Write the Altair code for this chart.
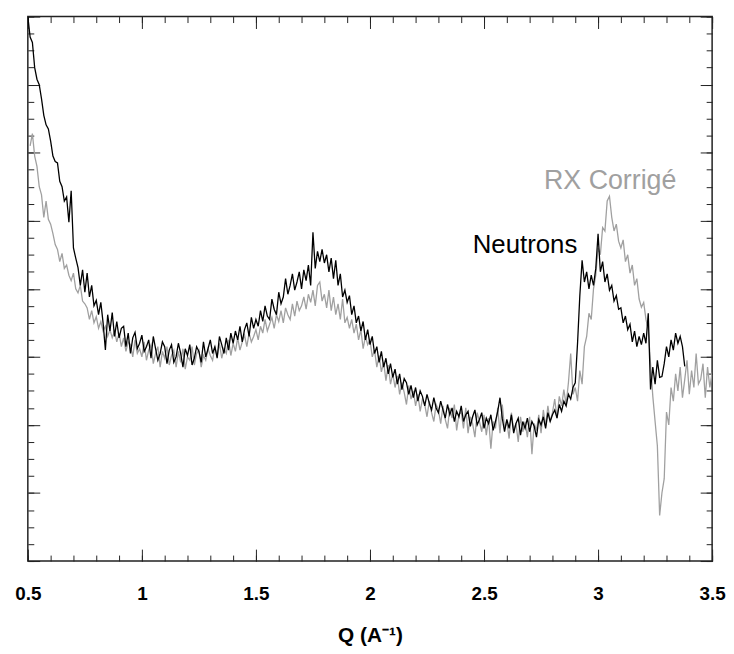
import altair as alt
import pandas as pd

# ---- data (y in arbitrary units, 0..8) ----
neutrons_y = [
    8.00, 7.70, 7.62, 7.25, 7.08, 7.00, 6.79, 6.55, 6.41, 6.35,   # 0.50-0.59
    6.17, 5.95, 5.87, 5.85, 5.58, 5.50, 5.29, 5.35, 4.98, 5.44,   # 0.60
    4.60, 4.45, 4.31, 4.05, 4.28, 3.95, 4.23, 3.88, 4.05, 3.75,   # 0.70
    3.83, 3.62, 3.80, 3.50, 3.10, 3.62, 3.38, 3.65, 3.30, 3.52,   # 0.80
    3.28, 3.42, 3.45, 3.15, 3.35, 3.05, 3.28, 3.36, 3.12, 3.20,   # 0.90
    3.32, 3.08, 3.15, 3.25, 2.98, 3.30, 3.12, 2.95, 3.05, 3.22,   # 1.00
    3.15, 2.90, 3.10, 3.18, 2.92, 3.00, 3.20, 3.05, 2.85, 3.12,   # 1.10
    3.02, 3.18, 2.88, 2.98, 3.15, 3.08, 2.92, 3.22, 3.00, 3.12,   # 1.20
    3.25, 3.05, 3.15, 2.98, 3.30, 3.18, 3.05, 3.28, 3.10, 3.35,   # 1.30
    3.20, 3.38, 3.25, 3.45, 3.22, 3.40, 3.50, 3.30, 3.58, 3.42,   # 1.40
    3.55, 3.45, 3.68, 3.52, 3.75, 3.60, 3.55, 3.85, 3.70, 3.62,   # 1.50
    3.95, 3.78, 3.88, 4.15, 3.92, 4.05, 4.22, 3.98, 4.10, 4.25,   # 1.60
    4.00, 4.28, 4.12, 4.35, 4.05, 4.83, 4.30, 4.55, 4.40, 4.58,   # 1.70
    4.38, 4.50, 4.25, 4.45, 4.15, 4.42, 4.05, 4.22, 3.88, 3.98,   # 1.80
    3.80, 3.90, 3.62, 3.75, 3.50, 3.60, 3.38, 3.52, 3.25, 3.40,   # 1.90
    3.18, 3.30, 3.05, 3.15, 2.92, 3.08, 2.85, 2.98, 2.75, 2.90,   # 2.00
    2.70, 2.82, 2.60, 2.75, 2.52, 2.68, 2.62, 2.45, 2.58, 2.40,   # 2.10
    2.55, 2.35, 2.50, 2.42, 2.28, 2.45, 2.32, 2.22, 2.40, 2.25,   # 2.20
    2.18, 2.35, 2.22, 2.10, 2.30, 2.15, 2.25, 2.05, 2.20, 2.12,   # 2.30
    2.28, 2.05, 2.15, 2.20, 1.98, 2.12, 2.22, 2.00, 2.08, 2.18,   # 2.40
    1.95, 2.10, 2.02, 2.15, 1.92, 2.05, 2.20, 2.40, 2.10, 1.90,   # 2.50
    2.08, 1.95, 2.15, 1.88, 2.02, 2.10, 1.85, 2.05, 1.95, 2.10,   # 2.60
    1.90, 2.05, 1.98, 1.82, 2.08, 2.00, 2.12, 1.95, 2.18, 2.05,   # 2.70
    2.15, 2.22, 2.10, 2.30, 2.20, 2.35, 2.28, 2.45, 2.38, 2.55,   # 2.80
    2.62, 3.20, 3.90, 4.42, 4.10, 4.25, 4.00, 4.20, 4.05, 4.30,   # 2.90
    4.81, 4.25, 4.40, 4.10, 4.22, 3.98, 4.05, 3.82, 3.90, 3.70,   # 3.00
    3.72, 3.50, 3.60, 3.40, 3.48, 3.22, 3.38, 3.15, 3.30, 3.18,   # 3.10
    3.35, 3.20, 3.64, 2.52, 2.85, 2.60, 2.95, 2.70, 2.71, 2.90,   # 3.20
    3.15, 3.00, 3.25, 3.10, 3.35, 3.20, 3.30, 3.15, 2.86,         # 3.30-3.38
]
neutrons_q0 = 0.50

rx_y = [
    6.10, 6.28, 5.95, 5.80, 5.50, 5.38, 5.05, 5.29, 5.02,         # 0.51-0.59
    4.95, 4.81, 4.65, 4.58, 4.40, 4.52, 4.30, 4.35, 4.20, 4.12,   # 0.60
    4.23, 4.00, 3.94, 4.05, 3.82, 3.78, 3.72, 3.55, 3.68, 3.50,   # 0.70
    3.59, 3.42, 3.52, 3.38, 3.45, 3.30, 3.40, 3.28, 3.38, 3.22,   # 0.80
    3.35, 3.15, 3.28, 3.08, 3.22, 3.18, 3.00, 3.25, 3.05, 3.12,   # 0.90
    3.00, 3.22, 2.95, 3.10, 3.18, 2.90, 3.05, 3.15, 2.85, 3.08,   # 1.00
    2.98, 3.15, 2.88, 3.02, 3.10, 2.85, 3.08, 2.92, 3.12, 2.82,   # 1.10
    3.00, 2.95, 3.15, 2.88, 3.05, 3.10, 2.85, 3.02, 2.95, 3.12,   # 1.20
    3.02, 2.95, 3.15, 3.00, 3.20, 2.98, 3.12, 3.05, 3.25, 3.02,   # 1.30
    3.20, 3.08, 3.28, 3.10, 3.22, 3.32, 3.15, 3.35, 3.22, 3.30,   # 1.40
    3.40, 3.25, 3.45, 3.35, 3.55, 3.38, 3.48, 3.58, 3.42, 3.62,   # 1.50
    3.52, 3.68, 3.50, 3.72, 3.62, 3.55, 3.78, 3.60, 3.82, 3.68,   # 1.60
    3.75, 3.88, 3.70, 3.92, 3.80, 3.98, 3.75, 4.05, 4.10, 3.82,   # 1.70
    3.92, 3.72, 3.98, 3.68, 3.88, 3.62, 3.78, 3.55, 3.85, 3.50,   # 1.80
    3.58, 3.42, 3.55, 3.35, 3.48, 3.25, 3.40, 3.12, 3.30, 3.18,   # 1.90
    3.25, 3.00, 3.10, 2.85, 3.02, 2.78, 2.92, 2.65, 2.88, 2.60,   # 2.00
    2.75, 2.55, 2.72, 2.45, 2.62, 2.48, 2.30, 2.58, 2.38, 2.50,   # 2.10
    2.28, 2.45, 2.20, 2.38, 2.30, 2.12, 2.35, 2.18, 2.05, 2.30,   # 2.20
    2.22, 2.02, 2.28, 2.08, 1.95, 2.25, 2.10, 2.30, 1.92, 2.15,   # 2.30
    2.20, 1.95, 2.25, 1.88, 2.12, 2.02, 1.82, 2.18, 2.05, 1.90,   # 2.40
    2.15, 1.85, 2.10, 1.65, 2.05, 1.95, 2.25, 1.88, 2.30, 1.95,   # 2.50
    2.05, 1.80, 2.18, 1.92, 2.02, 1.75, 2.12, 1.90, 2.05, 1.82,   # 2.60
    2.12, 1.57, 2.02, 1.92, 2.15, 1.88, 2.22, 1.98, 2.28, 2.05,   # 2.70
    2.18, 2.38, 2.10, 2.42, 2.28, 2.52, 2.30, 2.62, 3.05, 2.45,   # 2.80
    2.55, 2.35, 2.80, 2.60, 3.15, 3.30, 3.64, 3.55, 4.00, 4.20,   # 2.90
    4.60, 4.50, 4.90, 4.85, 5.29, 5.36, 5.05, 4.85, 4.95, 4.70,   # 3.00
    4.60, 4.72, 4.40, 4.50, 4.23, 4.35, 4.05, 4.15, 3.85, 3.73,   # 3.10
    3.80, 3.55, 3.40, 2.90, 2.42, 2.05, 1.69, 0.67, 1.00, 1.21,   # 3.20
    2.19, 2.00, 2.55, 2.35, 2.75, 2.50, 2.85, 2.40, 2.67, 2.95,   # 3.30
    2.45, 2.80, 2.55, 3.05, 2.60, 2.67, 2.90, 2.40, 2.85, 2.55, 2.77,  # 3.40-3.50
]
rx_q0 = 0.51

labels = ["Neutrons", "RX Corrigé"]
label_q = [2.909, 2.763]
label_y = [4.52, 5.47]

x_major = [0.5, 1.0, 1.5, 2.0, 2.5, 3.0, 3.5]
x_minor = [round(0.5 + 0.1 * i, 2) for i in range(31)]
y_major = [0, 1, 2, 3, 4, 5, 6, 7, 8]
y_minor = [0.25 * i for i in range(33)]
x_label_values = [0.5, 1, 1.5, 2, 2.5, 3, 3.5]

W, H = 690, 549
FONT = "Liberation Sans"

neutrons = pd.DataFrame({"q": [round(neutrons_q0 + 0.01 * i, 2) for i in range(len(neutrons_y))],
                         "v": neutrons_y})
rx = pd.DataFrame({"q": [round(rx_q0 + 0.01 * i, 2) for i in range(len(rx_y))], "v": rx_y})
lab = pd.DataFrame({"label": labels, "q": label_q, "v": label_y})

xs = alt.Scale(domain=[0.5, 3.5], nice=False, zero=False)
ys = alt.Scale(domain=[0, 8], nice=False, zero=False)


def tick_axis(orient, values, size, offset):
    return alt.Axis(orient=orient, values=values, tickSize=size, offset=offset,
                    labels=False, domain=False, grid=False, title=None,
                    tickColor="#222222", tickWidth=1)


bottom_labels = alt.Axis(orient="bottom", values=x_label_values, tickSize=0, domain=False,
                         grid=False, labelFlush=False, labelFont=FONT, labelFontSize=19,
                         labelFontWeight="bold", labelColor="black", labelPadding=24,
                         format="~g", title="Q (A⁻¹)", titleFont=FONT, titleFontSize=21,
                         titleFontWeight="bold", titleColor="black", titlePadding=21)

gray_line = alt.Chart(rx).mark_line(color="#a0a0a0", strokeWidth=1.3, clip=True).encode(
    x=alt.X("q:Q", scale=xs, axis=bottom_labels),
    y=alt.Y("v:Q", scale=ys, axis=tick_axis("right", y_major, 12, -W)),
)

black_line = alt.Chart(neutrons).mark_line(color="black", strokeWidth=1.3, clip=True).encode(
    x=alt.X("q:Q", scale=xs, axis=tick_axis("top", x_major, 12, -H)),
    y=alt.Y("v:Q", scale=ys, axis=tick_axis("right", y_minor, 6, -W)),
)

text_neutrons = alt.Chart(lab.iloc[[0]]).mark_text(
    align="right", baseline="alphabetic", font=FONT, fontSize=26, color="black"
).encode(
    x=alt.X("q:Q", scale=xs, axis=tick_axis("top", x_minor, 6, -H)),
    y=alt.Y("v:Q", scale=ys, axis=tick_axis("left", y_major, 12, -W)),
    text="label:N",
)

text_rx = alt.Chart(lab.iloc[[1]]).mark_text(
    align="left", baseline="alphabetic", font=FONT, fontSize=27, color="#a0a0a0"
).encode(
    x=alt.X("q:Q", scale=xs, axis=tick_axis("bottom", x_major, 12, -H)),
    y=alt.Y("v:Q", scale=ys, axis=tick_axis("left", y_minor, 6, -W)),
    text="label:N",
)

ghost = alt.Chart(lab).mark_point(opacity=0).encode(
    x=alt.X("q:Q", scale=xs, axis=tick_axis("bottom", x_minor, 6, -H)),
    y=alt.Y("v:Q", scale=ys, axis=None),
)

chart = alt.layer(gray_line, black_line, text_neutrons, text_rx, ghost).resolve_axis(
    x="independent", y="independent"
).properties(
    width=W, height=H,
    autosize=alt.AutoSizeParams(type="none"),
    padding={"left": 20, "top": 6, "right": 14, "bottom": 83},
    background="white",
).configure_view(stroke="#222222", strokeWidth=1.5)

chart.save("out.html", embed_options={"renderer": "svg", "actions": False})
